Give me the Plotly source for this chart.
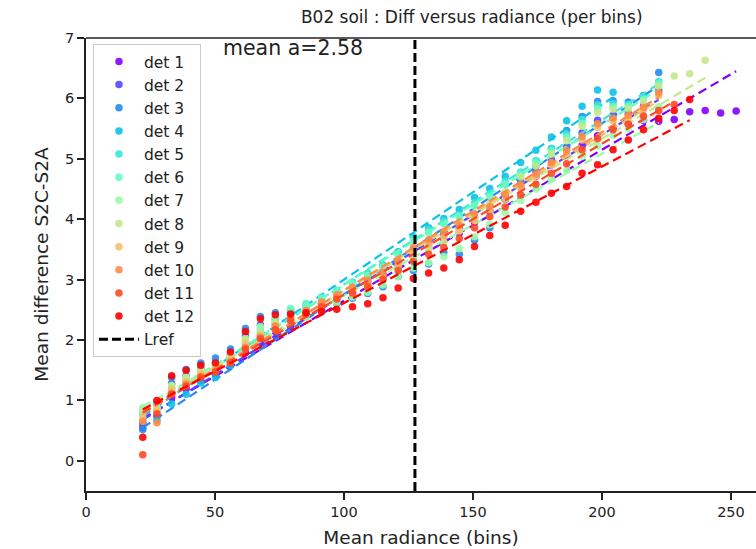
import plotly.graph_objects as go

# ---- data ----
X_BINS = [22.0, 27.5, 33.2, 38.8, 44.5, 50.2, 56.0, 61.8, 67.6, 73.4, 79.3, 85.3, 91.3, 97.2,
          103.3, 109.2, 115.1, 121.0, 126.9, 132.8, 138.7, 144.7, 150.6, 156.5, 162.5, 168.5,
          174.4, 180.4, 186.3, 192.3, 198.3, 204.3, 210.2, 216.1, 222.0, 228.0, 234.0, 240.0,
          246.0, 252.0]

det1 = [0.62, 0.74, 1.05, 1.19, 1.33, 1.43, 1.58, 1.79, 1.95, 2.08, 2.22, 2.45, 2.57, 2.69, 2.80,
        2.90, 3.03, 3.21, 3.41, 3.54, 3.66, 3.77, 3.95, 4.13, 4.33, 4.53, 4.71, 4.90, 5.05, 5.22,
        5.38, 5.50, 5.58, 5.64, 5.62, 5.65, 5.78, 5.80, 5.76, 5.79]
det2 = [0.55, 0.91, 1.28, 1.41, 1.53, 1.62, 1.77, 2.07, 2.25, 2.35, 2.46, 2.49, 2.61, 2.73, 2.84,
        2.96, 3.09, 3.28, 3.49, 3.62, 3.75, 3.85, 4.04, 4.21, 4.41, 4.61, 4.80, 4.99, 5.19, 5.43,
        5.64, 5.72, 5.75, 5.88, 6.13]
det3 = [0.52, 0.98, 1.38, 1.51, 1.62, 1.70, 1.85, 2.19, 2.39, 2.45, 2.49, 2.47, 2.51, 2.61, 2.69,
        2.77, 2.88, 3.05, 3.15, 3.26, 3.45, 3.42, 3.65, 3.86, 4.33, 4.61, 4.88, 5.17, 5.47, 5.70,
        5.95, 5.96, 5.94, 6.05, 6.43]
det4 = [0.65, 0.67, 0.94, 1.10, 1.29, 1.38, 1.58, 1.85, 2.09, 2.26, 2.44, 2.56, 2.69, 2.80, 2.95,
        3.10, 3.24, 3.46, 3.71, 3.86, 4.01, 4.16, 4.36, 4.51, 4.71, 4.94, 5.14, 5.36, 5.63, 5.87,
        6.14, 6.10]
det5 = [0.78, 0.82, 1.15, 1.29, 1.42, 1.51, 1.66, 1.91, 2.15, 2.32, 2.49, 2.60, 2.71, 2.82, 2.96,
        3.10, 3.24, 3.44, 3.68, 3.82, 3.96, 4.07, 4.27, 4.42, 4.62, 4.78, 4.97, 5.17, 5.41, 5.65,
        5.89, 5.91, 5.90, 6.02, 6.28]
det6 = [0.85, 0.85, 1.20, 1.34, 1.46, 1.55, 1.70, 1.97, 2.19, 2.36, 2.52, 2.58, 2.69, 2.78, 2.93,
        3.07, 3.21, 3.40, 3.64, 3.78, 3.92, 4.03, 4.22, 4.38, 4.58, 4.74, 4.93, 5.13, 5.36, 5.59,
        5.83, 5.86, 5.87, 5.98, 6.24]
det7 = [0.88, 0.89, 1.25, 1.39, 1.51, 1.59, 1.74, 2.03, 2.22, 2.26, 2.33, 2.38, 2.49, 2.62, 2.71,
        2.79, 2.91, 3.05, 3.19, 3.28, 3.38, 3.51, 3.71, 3.91, 4.11, 4.31, 4.50, 4.66, 4.81, 5.04,
        5.21, 5.39, 5.50, 5.65, 5.86]
det8 = [0.82, 0.87, 1.23, 1.36, 1.49, 1.57, 1.72, 2.00, 2.12, 2.29, 2.38, 2.43, 2.55, 2.68, 2.78,
        2.88, 3.00, 3.18, 3.38, 3.50, 3.62, 3.81, 4.04, 4.25, 4.45, 4.70, 4.88, 5.08, 5.30, 5.54,
        5.77, 5.82, 5.83, 5.95, 6.20, 6.37, 6.41, 6.63]
det9 = [0.72, 0.83, 1.18, 1.31, 1.44, 1.53, 1.68, 1.94, 2.08, 2.23, 2.35, 2.47, 2.59, 2.71, 2.82,
        2.93, 3.06, 3.24, 3.45, 3.58, 3.71, 3.81, 3.98, 4.15, 4.33, 4.53, 4.71, 4.90, 5.09, 5.31,
        5.52, 5.63, 5.68, 5.82, 6.05]
det10 = [0.65, 0.63, 1.12, 1.27, 1.40, 1.49, 1.64, 1.88, 2.05, 2.23, 2.38, 2.49, 2.63, 2.75, 2.87,
         2.99, 3.12, 3.31, 3.53, 3.66, 3.79, 3.90, 4.09, 4.21, 4.41, 4.57, 4.75, 4.94, 5.14, 5.37,
         5.58, 5.67, 5.72, 5.85, 6.09]
det11 = [0.10, 0.78, 1.10, 1.24, 1.38, 1.47, 1.62, 1.85, 2.02, 2.17, 2.32, 2.43, 2.55, 2.68, 2.78,
         2.88, 3.00, 3.15, 3.30, 3.42, 3.53, 3.68, 3.86, 4.04, 4.20, 4.40, 4.58, 4.76, 4.92, 5.15,
         5.33, 5.48, 5.57, 5.71, 5.80, 5.90]
det12 = [0.39, 1.00, 1.41, 1.50, 1.58, 1.62, 1.80, 2.14, 2.35, 2.42, 2.43, 2.45, 2.47, 2.51, 2.55,
         2.60, 2.70, 2.86, 3.02, 3.11, 3.19, 3.33, 3.55, 3.73, 3.90, 4.13, 4.28, 4.43, 4.54, 4.76,
         4.90, 5.15, 5.31, 5.48, 5.67, 5.80, 5.98]

DET_VALUES = [det1, det2, det3, det4, det5, det6, det7, det8, det9, det10, det11, det12]
DET_NAMES = ["det %d" % (i + 1) for i in range(12)]

# fitted linear regressions: end points
FIT_X0 = [22.0] * 12
FIT_X1 = [252.0, 222.0, 222.0, 204.3, 222.0, 222.0, 222.0, 240.0, 222.0, 222.0, 228.0, 234.0]
FIT_Y0 = [0.70, 0.68, 0.55, 0.74, 0.80, 0.85, 0.90, 0.85, 0.80, 0.78, 0.80, 0.85]
FIT_Y1 = [6.45, 5.98, 6.21, 6.02, 6.24, 6.15, 5.60, 6.34, 5.96, 6.02, 5.95, 5.64]

LREF = 127.5
MEAN_A_TEXT = "mean a=2.58"

COLORS = ["rgb(128,0,255)", "rgb(81,72,252)", "rgb(35,138,245)", "rgb(12,193,232)",
          "rgb(58,232,215)", "rgb(104,252,193)", "rgb(151,252,167)", "rgb(197,232,138)",
          "rgb(243,193,106)", "rgb(255,138,72)", "rgb(255,72,36)", "rgb(255,0,0)"]

FONT = "DejaVu Sans"

fig = go.Figure()
for i in range(12):
    ys = DET_VALUES[i]
    fig.add_trace(go.Scatter(
        x=X_BINS[:len(ys)], y=ys, mode="markers", name=DET_NAMES[i],
        marker=dict(color=COLORS[i], size=7.5, opacity=0.9, line=dict(width=0)),
    ))
    fig.add_trace(go.Scatter(
        x=[FIT_X0[i], FIT_X1[i]], y=[FIT_Y0[i], FIT_Y1[i]], mode="lines",
        line=dict(color=COLORS[i], width=2.2, dash="9px,5px"), showlegend=False,
        hoverinfo="skip",
    ))

fig.add_trace(go.Scatter(
    x=[LREF, LREF], y=[-0.5, 7.0], mode="lines", name="Lref",
    line=dict(color="black", width=3, dash="9px,4px"),
))

fig.add_annotation(x=52.3, y=6.83, text=MEAN_A_TEXT, showarrow=False, xanchor="left",
                   yanchor="middle", font=dict(family=FONT, size=20.5, color="#222"))

fig.add_shape(type="line", xref="paper", yref="paper", x0=0, x1=1, y0=1, y1=1,
              line=dict(color="#222", width=1.5))

fig.update_layout(
    width=756, height=549,
    margin=dict(l=86, r=0, t=38, b=58, autoexpand=False),
    paper_bgcolor="white", plot_bgcolor="white",
    font=dict(family=FONT, color="#222"),
    title=dict(text="B02 soil : Diff versus radiance (per bins)", x=0.624, xref="container",
               xanchor="center", y=0.969, yref="container", yanchor="middle",
               font=dict(family=FONT, size=17, color="#222")),
    showlegend=True,
    legend=dict(x=0.0104, y=0.987, xanchor="left", yanchor="top", bgcolor="white",
                bordercolor="#cccccc", borderwidth=1, font=dict(family=FONT, size=15.5, color="#222"),
                itemwidth=40),
    xaxis=dict(range=[0, 259.7], tickvals=[0, 50, 100, 150, 200, 250], showgrid=False,
               zeroline=False, showline=True, linecolor="#222", linewidth=1.5,
               ticks="outside", ticklen=7, tickwidth=1.5, tickcolor="#222", automargin=False,
               tickfont=dict(family=FONT, size=14.5, color="#222"),
               title=dict(text="Mean radiance (bins)", font=dict(family=FONT, size=18.5, color="#222"),
                          standoff=12)),
    yaxis=dict(range=[-0.5, 7.0], tickvals=[0, 1, 2, 3, 4, 5, 6, 7], showgrid=False,
               zeroline=False, showline=True, linecolor="#222", linewidth=1.5,
               ticks="outside", ticklen=7, tickwidth=1.5, tickcolor="#222", automargin=False,
               tickfont=dict(family=FONT, size=14.5, color="#222"),
               title=dict(text="Mean difference S2C-S2A", font=dict(family=FONT, size=18.5, color="#222"),
                          standoff=12)),
)

fig.write_html("out.html", config={"displayModeBar": False},
               post_script="document.body.style.margin='0px';")
